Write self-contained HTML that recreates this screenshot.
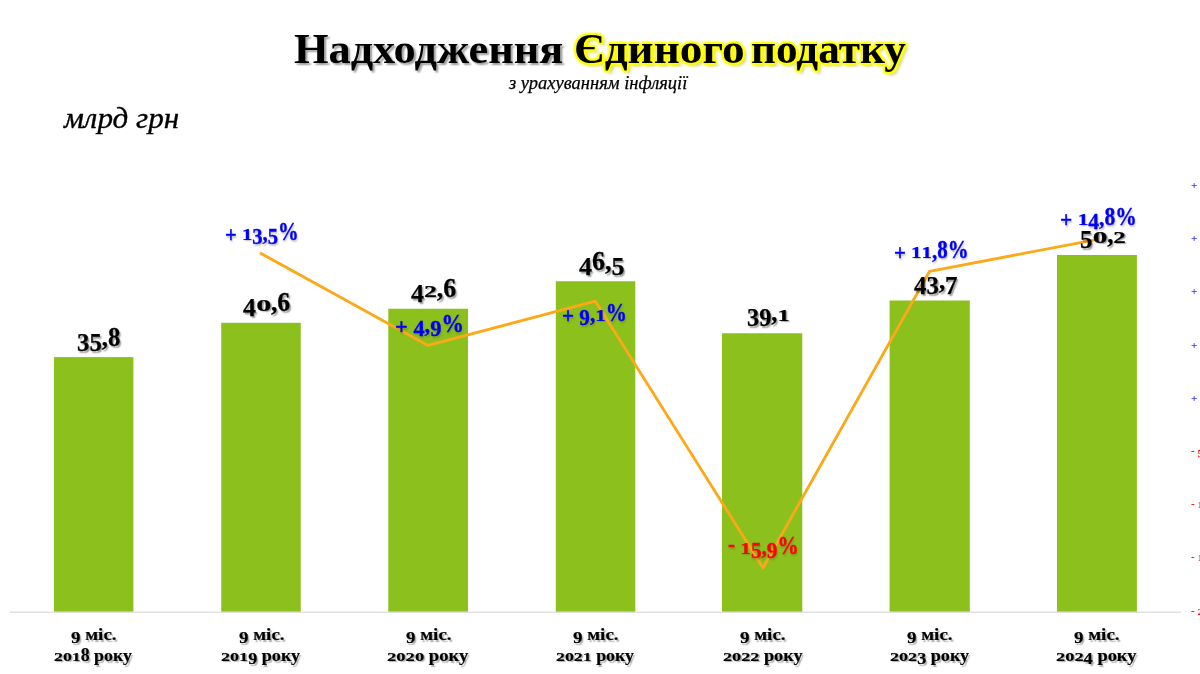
<!DOCTYPE html>
<html lang="uk"><head><meta charset="utf-8"><title>Надходження Єдиного податку</title>
<style>
html,body{margin:0;padding:0;background:#fff;overflow:hidden}
body{width:1200px;height:674px;position:relative;overflow:hidden;font-family:"Liberation Serif",serif}
svg{position:absolute;left:0;top:0}
.t{position:absolute;white-space:nowrap;transform-origin:0 0;margin:0;padding:0}
.b{font-weight:bold}.i{font-style:italic}
.x,.a{display:inline-block;transform-origin:50% .84em}
.x{transform:scaleY(.71)}
.o{transform:scale(1.18,.71);margin:0 .045em}
.p{position:relative;top:.09em}
.m{position:relative;top:-.07em}
.pc{display:inline-block;transform-origin:50% .84em;transform:scaleY(1.09)}
.a{transform:scaleY(1.07)}
.d{position:relative;top:.18em}
.ax{position:absolute;white-space:nowrap;font-weight:bold;font-size:11px;line-height:11px;left:1191px;text-shadow:0 0 1px rgba(255,255,255,.0)}
</style></head><body>
<svg width="1200" height="674" viewBox="0 0 1200 674"><rect x="10" y="611.6" width="1171" height="1.2" fill="#d9d9d9"/><rect x="54.0" y="357.1" width="79.40" height="254.50" fill="#8cc01c"/><rect x="221.25" y="322.8" width="79.50" height="288.80" fill="#8cc01c"/><rect x="388.3" y="308.75" width="79.70" height="302.85" fill="#8cc01c"/><rect x="555.8" y="281.25" width="79.50" height="330.35" fill="#8cc01c"/><rect x="722.0" y="333.25" width="80.30" height="278.35" fill="#8cc01c"/><rect x="889.6" y="300.5" width="80.20" height="311.10" fill="#8cc01c"/><rect x="1057.0" y="255.0" width="79.90" height="356.60" fill="#8cc01c"/><polyline points="261.0,253.4 428.0,345.4 595.4,301.2 763.0,567.8 929.6,271.3 1097.5,239.3" fill="none" stroke="#fca818" stroke-width="2.8" stroke-linejoin="round" stroke-linecap="round"/></svg>
<div class="t b" style="left:293.53px;top:27.00px;font-size:42.5px;line-height:43px;color:#000;transform:scaleX(1.0437);text-shadow:2px 2px 2px rgba(0,0,0,.4)">Надходження </div>
<div class="t b" style="left:574.26px;top:27.00px;font-size:42.5px;line-height:43px;color:#000;transform:scaleX(1.0655);text-shadow:0 0 2px #ff0,1.8px 0.0px 1.5px #ff0,1.3px 1.3px 1.5px #ff0,0.0px 1.8px 1.5px #ff0,-1.3px 1.3px 1.5px #ff0,-1.8px 0.0px 1.5px #ff0,-1.3px -1.3px 1.5px #ff0,-0.0px -1.8px 1.5px #ff0,1.3px -1.3px 1.5px #ff0,0 0 4px #ff0,0 0 4px #ff0,1px 1px 4px #ff0,3px 3px 3px rgba(120,120,0,.45)">Єдиного </div>
<div class="t b" style="left:751.22px;top:27.00px;font-size:42.5px;line-height:43px;color:#000;transform:scaleX(1.0172);text-shadow:0 0 2px #ff0,1.8px 0.0px 1.5px #ff0,1.3px 1.3px 1.5px #ff0,0.0px 1.8px 1.5px #ff0,-1.3px 1.3px 1.5px #ff0,-1.8px 0.0px 1.5px #ff0,-1.3px -1.3px 1.5px #ff0,-0.0px -1.8px 1.5px #ff0,1.3px -1.3px 1.5px #ff0,0 0 4px #ff0,0 0 4px #ff0,1px 1px 4px #ff0,3px 3px 3px rgba(120,120,0,.45)">податку</div>
<div class="t i" style="left:509.48px;top:74.00px;font-size:18px;line-height:18px;color:#000;transform:scaleX(1.0271);-webkit-text-stroke:.25px #000">з урахуванням інфляції</div>
<div class="t i" style="left:64.23px;top:103.00px;font-size:30px;line-height:30px;color:#000;transform:scaleX(1.0369);-webkit-text-stroke:.35px #000">млрд грн</div>
<div class="t b" style="left:77.43px;top:325.00px;font-size:25px;line-height:25px;color:#000;transform:scaleX(0.9923);-webkit-text-stroke:.25px;text-shadow:1.5px 1.5px 1.5px rgba(0,0,0,.4)"><span class="d">3</span><span class="d">5</span>,<span class="a">8</span></div>
<div class="t b" style="left:242.94px;top:290.00px;font-size:25px;line-height:25px;color:#000;transform:scaleX(1.0260);-webkit-text-stroke:.25px;text-shadow:1.5px 1.5px 1.5px rgba(0,0,0,.4)"><span class="d">4</span><span class="x o">0</span>,<span class="a">6</span></div>
<div class="t b" style="left:411.19px;top:276.00px;font-size:25px;line-height:25px;color:#000;transform:scaleX(1.0332);-webkit-text-stroke:.25px;text-shadow:1.5px 1.5px 1.5px rgba(0,0,0,.4)"><span class="d">4</span><span class="x">2</span>,<span class="a">6</span></div>
<div class="t b" style="left:578.69px;top:249.00px;font-size:25px;line-height:25px;color:#000;transform:scaleX(1.0393);-webkit-text-stroke:.25px;text-shadow:1.5px 1.5px 1.5px rgba(0,0,0,.4)"><span class="d">4</span><span class="a">6</span>,<span class="d">5</span></div>
<div class="t b" style="left:746.85px;top:300.00px;font-size:25px;line-height:25px;color:#000;transform:scaleX(0.9742);-webkit-text-stroke:.25px;text-shadow:1.5px 1.5px 1.5px rgba(0,0,0,.4)"><span class="d">3</span><span class="d">9</span>,<span class="x">1</span></div>
<div class="t b" style="left:914.45px;top:268.00px;font-size:25px;line-height:25px;color:#000;transform:scaleX(0.9953);-webkit-text-stroke:.25px;text-shadow:1.5px 1.5px 1.5px rgba(0,0,0,.4)"><span class="d">4</span><span class="d">3</span>,<span class="d">7</span></div>
<div class="t b" style="left:1079.70px;top:222.00px;font-size:25px;line-height:25px;color:#000;transform:scaleX(0.9955);-webkit-text-stroke:.25px;text-shadow:1.5px 1.5px 1.5px rgba(0,0,0,.4)"><span class="d">5</span><span class="x o">0</span>,<span class="x">2</span></div>
<div class="t b" style="left:225.17px;top:220.00px;font-size:24px;line-height:24px;color:#0000fa;transform:scaleX(0.8589);-webkit-text-stroke:.35px;text-shadow:1px 1.5px 2px rgba(90,90,40,.4)"><span class="p">+</span> <span class="x">1</span><span class="d">3</span>,<span class="d">5</span><span class="pc">%</span></div>
<div class="t b" style="left:394.58px;top:312.00px;font-size:24px;line-height:24px;color:#0000fa;transform:scaleX(0.9344);-webkit-text-stroke:.35px;text-shadow:1px 1.5px 2px rgba(90,90,40,.4)"><span class="p">+</span> <span class="d">4</span>,<span class="d">9</span><span class="pc">%</span></div>
<div class="t b" style="left:562.14px;top:301.00px;font-size:24px;line-height:24px;color:#0000fa;transform:scaleX(0.8810);-webkit-text-stroke:.35px;text-shadow:1px 1.5px 2px rgba(90,90,40,.4)"><span class="p">+</span> <span class="d">9</span>,<span class="x">1</span><span class="pc">%</span></div>
<div class="t b" style="left:728.21px;top:534.00px;font-size:24px;line-height:24px;color:#f00;transform:scaleX(0.8826);-webkit-text-stroke:.35px;text-shadow:1px 1.5px 2px rgba(90,90,40,.4)"><span class="m">-</span> <span class="x">1</span><span class="d">5</span>,<span class="d">9</span><span class="pc">%</span></div>
<div class="t b" style="left:894.16px;top:238.00px;font-size:24px;line-height:24px;color:#0000fa;transform:scaleX(0.8698);-webkit-text-stroke:.35px;text-shadow:1px 1.5px 2px rgba(90,90,40,.4)"><span class="p">+</span> <span class="x">1</span><span class="x">1</span>,<span class="a">8</span><span class="pc">%</span></div>
<div class="t b" style="left:1059.63px;top:205.00px;font-size:24px;line-height:24px;color:#0000fa;transform:scaleX(0.8953);-webkit-text-stroke:.35px;text-shadow:1px 1.5px 2px rgba(90,90,40,.4)"><span class="p">+</span> <span class="x">1</span><span class="d">4</span>,<span class="a">8</span><span class="pc">%</span></div>
<div class="t b" style="left:71.23px;top:625.00px;font-size:17.5px;line-height:18px;color:#000;transform:scaleX(1.0828);-webkit-text-stroke:.2px;text-shadow:1.5px 1.5px 1.2px rgba(0,0,0,.33)"><span class="d">9</span> міс.</div>
<div class="t b" style="left:54.29px;top:646.00px;font-size:17.5px;line-height:18px;color:#000;transform:scaleX(1.0178);-webkit-text-stroke:.2px;text-shadow:1.5px 1.5px 1.2px rgba(0,0,0,.33)"><span class="x">2</span><span class="x">0</span><span class="x">1</span><span class="a">8</span> року</div>
<div class="t b" style="left:238.53px;top:625.00px;font-size:17.5px;line-height:18px;color:#000;transform:scaleX(1.0828);-webkit-text-stroke:.2px;text-shadow:1.5px 1.5px 1.2px rgba(0,0,0,.33)"><span class="d">9</span> міс.</div>
<div class="t b" style="left:220.98px;top:646.00px;font-size:17.5px;line-height:18px;color:#000;transform:scaleX(1.0350);-webkit-text-stroke:.2px;text-shadow:1.5px 1.5px 1.2px rgba(0,0,0,.33)"><span class="x">2</span><span class="x">0</span><span class="x">1</span><span class="d">9</span> року</div>
<div class="t b" style="left:405.68px;top:625.00px;font-size:17.5px;line-height:18px;color:#000;transform:scaleX(1.0828);-webkit-text-stroke:.2px;text-shadow:1.5px 1.5px 1.2px rgba(0,0,0,.33)"><span class="d">9</span> міс.</div>
<div class="t b" style="left:387.36px;top:646.00px;font-size:17.5px;line-height:18px;color:#000;transform:scaleX(1.0627);-webkit-text-stroke:.2px;text-shadow:1.5px 1.5px 1.2px rgba(0,0,0,.33)"><span class="x">2</span><span class="x">0</span><span class="x">2</span><span class="x">0</span> року</div>
<div class="t b" style="left:573.08px;top:625.00px;font-size:17.5px;line-height:18px;color:#000;transform:scaleX(1.0828);-webkit-text-stroke:.2px;text-shadow:1.5px 1.5px 1.2px rgba(0,0,0,.33)"><span class="d">9</span> міс.</div>
<div class="t b" style="left:556.19px;top:646.00px;font-size:17.5px;line-height:18px;color:#000;transform:scaleX(1.0204);-webkit-text-stroke:.2px;text-shadow:1.5px 1.5px 1.2px rgba(0,0,0,.33)"><span class="x">2</span><span class="x">0</span><span class="x">2</span><span class="x">1</span> року</div>
<div class="t b" style="left:739.68px;top:625.00px;font-size:17.5px;line-height:18px;color:#000;transform:scaleX(1.0828);-webkit-text-stroke:.2px;text-shadow:1.5px 1.5px 1.2px rgba(0,0,0,.33)"><span class="d">9</span> міс.</div>
<div class="t b" style="left:722.52px;top:646.00px;font-size:17.5px;line-height:18px;color:#000;transform:scaleX(1.0409);-webkit-text-stroke:.2px;text-shadow:1.5px 1.5px 1.2px rgba(0,0,0,.33)"><span class="x">2</span><span class="x">0</span><span class="x">2</span><span class="x">2</span> року</div>
<div class="t b" style="left:907.23px;top:625.00px;font-size:17.5px;line-height:18px;color:#000;transform:scaleX(1.0828);-webkit-text-stroke:.2px;text-shadow:1.5px 1.5px 1.2px rgba(0,0,0,.33)"><span class="d">9</span> міс.</div>
<div class="t b" style="left:890.18px;top:646.00px;font-size:17.5px;line-height:18px;color:#000;transform:scaleX(1.0350);-webkit-text-stroke:.2px;text-shadow:1.5px 1.5px 1.2px rgba(0,0,0,.33)"><span class="x">2</span><span class="x">0</span><span class="x">2</span><span class="d">3</span> року</div>
<div class="t b" style="left:1074.48px;top:625.00px;font-size:17.5px;line-height:18px;color:#000;transform:scaleX(1.0828);-webkit-text-stroke:.2px;text-shadow:1.5px 1.5px 1.2px rgba(0,0,0,.33)"><span class="d">9</span> міс.</div>
<div class="t b" style="left:1056.26px;top:646.00px;font-size:17.5px;line-height:18px;color:#000;transform:scaleX(1.0521);-webkit-text-stroke:.2px;text-shadow:1.5px 1.5px 1.2px rgba(0,0,0,.33)"><span class="x">2</span><span class="x">0</span><span class="x">2</span><span class="d">4</span> року</div>
<div class="ax" style="top:179px;color:#2a2aff"><span class="p">+</span> <span class="x">2</span><span class="x">0</span>,<span class="x">0</span><span class="pc">%</span></div>
<div class="ax" style="top:232px;color:#2a2aff"><span class="p">+</span> <span class="x">1</span><span class="d">5</span>,<span class="x">0</span><span class="pc">%</span></div>
<div class="ax" style="top:285px;color:#2a2aff"><span class="p">+</span> <span class="x">1</span><span class="x">0</span>,<span class="x">0</span><span class="pc">%</span></div>
<div class="ax" style="top:339px;color:#2a2aff"><span class="p">+</span> <span class="d">5</span>,<span class="x">0</span><span class="pc">%</span></div>
<div class="ax" style="top:392px;color:#2a2aff"><span class="p">+</span> <span class="x">0</span>,<span class="x">0</span><span class="pc">%</span></div>
<div class="ax" style="top:446px;color:#f00"><span class="m">-</span> <span class="d">5</span>,<span class="x">0</span><span class="pc">%</span></div>
<div class="ax" style="top:499px;color:#f00"><span class="m">-</span> <span class="x">1</span><span class="x">0</span>,<span class="x">0</span><span class="pc">%</span></div>
<div class="ax" style="top:552px;color:#f00"><span class="m">-</span> <span class="x">1</span><span class="d">5</span>,<span class="x">0</span><span class="pc">%</span></div>
<div class="ax" style="top:606px;color:#f00"><span class="m">-</span> <span class="x">2</span><span class="x">0</span>,<span class="x">0</span><span class="pc">%</span></div>
</body></html>
